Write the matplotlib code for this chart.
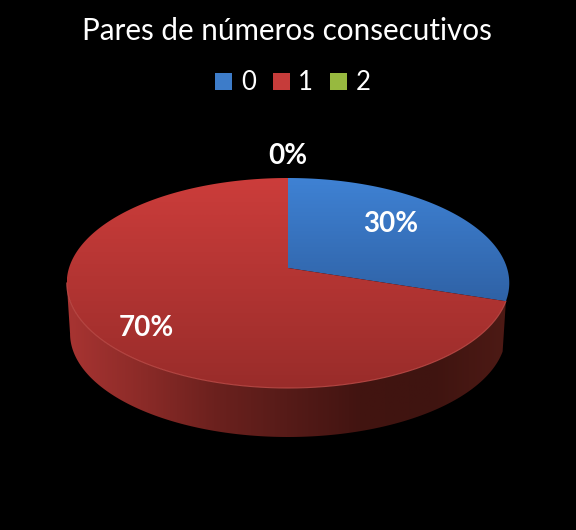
import matplotlib
matplotlib.use("Agg")
import matplotlib.pyplot as plt
import numpy as np
from matplotlib.colors import LinearSegmentedColormap
from matplotlib.patches import Patch, Polygon

plt.rcParams['font.family'] = ['Lato', 'DejaVu Sans']

categories = ["0", "1", "2"]
values = [30, 70, 0]
pct_labels = ["30%", "70%", "0%"]
legend_colors = ["#3d7cc9", "#c63c3a", "#97b93f"]

cx = 288
cy = 268
rx = 219
ry_a = 102.86
k = 1 / 7.0
depth = 50.8
shrink = 0.985


# circle seen at an angle, theta goes clockwise from the top
def project(theta, s=1.0, dy=0.0):
    X = np.sin(theta)
    Y = np.cos(theta)
    w = 1 + k * Y
    return cx + s * rx * X / w, cy + dy - s * ry_a * Y / w


def fill_grad(ax, verts, colors, horizontal=False, z=2):
    cmap = LinearSegmentedColormap.from_list("g", colors)
    grad = np.linspace(0, 1, 256)
    grad = grad.reshape(1, -1) if horizontal else grad.reshape(-1, 1)
    x0, y0 = verts.min(axis=0)
    x1, y1 = verts.max(axis=0)
    im = ax.imshow(grad, cmap=cmap, extent=(x0, x1, y1, y0), aspect="auto", zorder=z)
    clip = Polygon(verts, closed=True, transform=ax.transData, facecolor="none", edgecolor="none")
    ax.add_patch(clip)
    im.set_clip_path(clip)


fig = plt.figure(figsize=(5.76, 5.30), dpi=100, facecolor="black")
ax = fig.add_axes([0, 0, 1, 1])
ax.set_facecolor("black")

# slice angles
fracs = np.array(values) / sum(values)
edges = np.concatenate([[0], np.cumsum(fracs)]) * 2 * np.pi

# side wall, from the slice edge round to the widest point on the left
left_theta = 2 * np.pi - np.arccos(-k)
t = np.linspace(edges[1], left_theta, 300)
xt, yt = project(t)
xb, yb = project(t, shrink, depth)
wall = np.vstack([np.column_stack([xt, yt]), np.column_stack([xb, yb])[::-1]])
fill_grad(ax, wall, ["#a83432", "#8c2b28", "#6c211e", "#561b18", "#421411", "#3f1410", "#4d1a15"], horizontal=True, z=1)

# top of the pie
tops = [["#3f82d4", "#2f62a6"], ["#cc3d3b", "#992c2a"]]
for i in range(2):
    t = np.linspace(edges[i], edges[i + 1], 300)
    xs, ys = project(t)
    verts = np.vstack([[cx, cy], np.column_stack([xs, ys])])
    fill_grad(ax, verts, tops[i], z=3)

# light rim on the front edge
t = np.linspace(edges[1], left_theta, 300)
xs, ys = project(t)
ax.plot(xs, ys, color="#c4504c", lw=0.8, alpha=0.8, zorder=4)

ax.set_xlim(0, 576)
ax.set_ylim(530, 0)
ax.axis("off")

ax.text(287, 31.5, "Pares de números consecutivos", color="white", fontsize=21.3, ha="center", va="center")

handles = [Patch(facecolor=c, edgecolor="none", label=n) for c, n in zip(legend_colors, categories)]
ax.legend(handles=handles, ncol=3, frameon=False, loc="center", bbox_to_anchor=(293 / 576, 1 - 83 / 530),
          labelcolor="white", fontsize=18.5, handlelength=0.66, handleheight=0.66,
          handletextpad=0.34, columnspacing=0.66)

ax.text(391, 223.5, pct_labels[0], color="white", fontsize=20, fontweight="bold", ha="center", va="center", zorder=5)
ax.text(146, 327.5, pct_labels[1], color="white", fontsize=20, fontweight="bold", ha="center", va="center", zorder=5)
ax.text(288, 155.5, pct_labels[2], color="white", fontsize=20, fontweight="bold", ha="center", va="center", zorder=5)

fig.savefig("out.png", dpi=100, facecolor="black")
